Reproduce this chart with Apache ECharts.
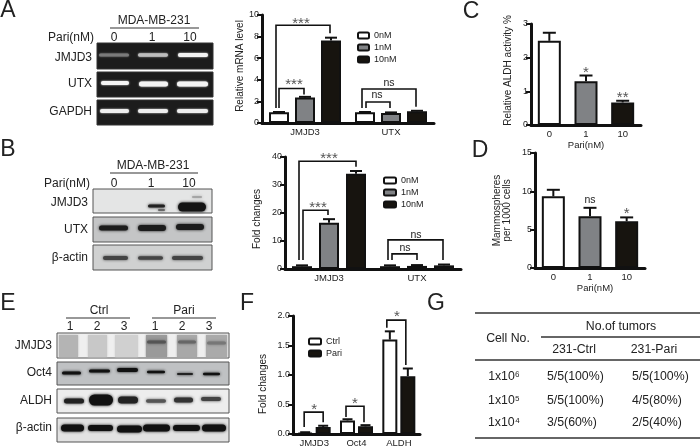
<!DOCTYPE html>
<html><head><meta charset="utf-8">
<style>html,body{margin:0;padding:0;background:#fff}#c{width:700px;height:448px;filter:blur(0.35px)}</style>
<script src="https://cdn.jsdelivr.net/npm/echarts@6/dist/echarts.min.js"></script>
</head><body><div id="c"></div>
<script>
// ---------- data ----------
const doseNames = ['0nM', '1nM', '10nM'];
const geneCats = ['JMJD3', 'UTX'];
const aVals = [[1.0, 1.0], [2.35, 0.92], [7.65, 1.08]];
const aErrs = [[1.02, 1.02], [2.42, 0.98], [7.9, 1.13]];
const bVals = [[1.0, 1.0], [16.5, 1.1], [34.0, 1.3]];
const bErrs = [[1.3, 1.3], [17.8, 1.4], [35.0, 1.6]];
const pariCats = ['0', '1', '10'];
const cVals = [2.5, 1.3, 0.67];
const cErrs = [2.74, 1.47, 0.72];
const dVals = [9.35, 6.75, 6.1];
const dErrs = [10.2, 7.85, 6.6];
const fCats = ['JMJD3', 'Oct4', 'ALDH'];
const fGroups = ['Ctrl', 'Pari'];
const fVals = [[0.02, 0.23, 1.6], [0.12, 0.13, 0.98]];
const fErrs = [[0.03, 0.25, 1.74], [0.14, 0.15, 1.11]];
// significance brackets: [category, left foot value, top value, right foot value, label, label value]
const aSig = [[0, 1.4, 9.05, 8.3, '***', 9.2], [0, 1.4, 3.2, 2.65, '***', 3.55], [1, 1.4, 3.15, 1.5, 'ns', 3.7], [1, 1.4, 1.95, 1.4, 'ns', 2.55]];
const bSig = [[0, 3.2, 38.5, 36.5, '***', 39.4], [0, 3.2, 21, 19.3, '***', 22], [1, 3.2, 10.4, 3.2, 'ns', 12.2], [1, 3.2, 5.4, 3.2, 'ns', 7.3]];
const fSig = [[0, 0.12, 0.37, 0.2, '*', 0.41], [1, 0.29, 0.47, 0.2, '*', 0.51], [2, 1.8, 1.93, 1.17, '*', 1.98]];
const cMarks = [[1, '*', 1.55], [2, '**', 0.8]];
const dMarks = [[1, 'ns', 8.9], [2, '*', 7.1]];
const tableHead = ['Cell No.', 'No.of tumors', '231-Ctrl', '231-Pari'];
const tableRows = [['1x10⁶', '5/5(100%)', '5/5(100%)'], ['1x10⁵', '5/5(100%)', '4/5(80%)'], ['1x10⁴', '3/5(60%)', '2/5(40%)']];

// ---------- layout ----------
const FONT = '"Liberation Sans", Arial, sans-serif';
const INK = '#222';
const fills = ['#ffffff', '#808285', '#17140f'];
const grids = [
  {left: 262, top: 15, width: 172, height: 108},
  {left: 285, top: 157, width: 176, height: 112},
  {left: 531, top: 24, width: 110, height: 101},
  {left: 535, top: 153, width: 110, height: 115},
  {left: 293, top: 316, width: 127, height: 118}
];
const aSigDx = [[-29, 25, -4], [-26, -1, -11], [-29, 25, -2], [-25, -1, -14]];
const bSigDx = [[-30, 27, 0], [-26, -1, -11], [-29, 26, -1], [-25, 0, -12]];
const fSigDx = [[-10, 9, 0], [-10.5, 7.5, -1.5], [-12, 7, -2]];

function xAxis(i, data, extra) {
  return Object.assign({
    type: 'category', gridIndex: i, data,
    axisLine: {show: true, lineStyle: {color: '#111', width: 3}},
    axisTick: {show: false},
    axisLabel: {color: INK, fontSize: 9.5, margin: 4, fontFamily: FONT, interval: 0}
  }, extra || {});
}
function yAxis(i, max, interval, name, gap, padding, extra) {
  return Object.assign({
    type: 'value', gridIndex: i, min: 0, max, interval,
    name, nameLocation: 'middle', nameGap: gap,
    nameTextStyle: {color: INK, fontSize: 10, fontFamily: FONT, padding},
    splitLine: {show: false},
    axisLine: {show: true, lineStyle: {color: '#111', width: 3}},
    axisTick: {show: true, length: 5, lineStyle: {color: '#111', width: 2}},
    axisLabel: {color: INK, fontSize: 9, margin: 3, fontFamily: FONT}
  }, extra || {});
}
function barSeries(name, i, data, fill, width, gap) {
  return {
    type: 'bar', name, xAxisIndex: i, yAxisIndex: i, data,
    barWidth: width, barGap: gap, z: 2, silent: true,
    itemStyle: {color: fill, borderColor: '#111', borderWidth: 2}
  };
}
// error bars: rows of [category, pixel slot offset, value, upper bound]
function errSeries(i, rows, cap) {
  return {
    type: 'custom', xAxisIndex: i, yAxisIndex: i, silent: true, z: 3, clip: false,
    data: rows.map(r => [r[0], r[3]]),
    renderItem(p, api) {
      const r = rows[p.dataIndex];
      const a = api.coord([r[0], r[2]]), b = api.coord([r[0], r[3]]);
      const x = a[0] + r[1];
      return {type: 'group', children: [
        {type: 'line', shape: {x1: x, y1: a[1], x2: x, y2: b[1]}, style: {stroke: '#111', lineWidth: 2}},
        {type: 'line', shape: {x1: x - cap / 2, y1: b[1], x2: x + cap / 2, y2: b[1]}, style: {stroke: '#111', lineWidth: 2}}
      ]};
    }
  };
}
function sigText(x, y, t) {
  return {type: 'text', style: {text: t, x, y, align: 'center', verticalAlign: 'middle',
    fill: t === 'ns' ? INK : '#555', fontSize: t === 'ns' ? 10.5 : 15, fontFamily: FONT}};
}
function bracketSeries(i, rows, dx) {
  return {
    type: 'custom', xAxisIndex: i, yAxisIndex: i, silent: true, z: 4, clip: false,
    data: rows.map(r => [r[0], r[2]]),
    renderItem(p, api) {
      const r = rows[p.dataIndex], d = dx[p.dataIndex];
      const c = api.coord([r[0], 0])[0];
      const Y = v => api.coord([r[0], v])[1];
      return {type: 'group', children: [
        {type: 'polyline', shape: {points: [[c + d[0], Y(r[1])], [c + d[0], Y(r[2])], [c + d[1], Y(r[2])], [c + d[1], Y(r[3])]]},
          style: {stroke: '#111', lineWidth: 1.6, fill: null}},
        sigText(c + d[2], Y(r[5]), r[4])
      ]};
    }
  };
}
function markSeries(i, rows) {
  return {
    type: 'custom', xAxisIndex: i, yAxisIndex: i, silent: true, z: 4, clip: false,
    data: rows.map(r => [r[0], r[2]]),
    renderItem(p, api) {
      const r = rows[p.dataIndex], a = api.coord([r[0], r[2]]);
      return sigText(a[0], a[1], r[1]);
    }
  };
}
function groupedSeries(i, vals, errs, names, width, step, cap) {
  const out = [];
  names.forEach((n, s) => {
    out.push(barSeries(n, i, vals[s], s === 0 ? fills[0] : fills[names.length === 2 ? 2 : s], width, ((step - width) / width * 100) + '%'));
  });
  const rows = [];
  names.forEach((n, s) => vals[s].forEach((v, c) => rows.push([c, step * (s - (names.length - 1) / 2), v, errs[s][c]])));
  out.push(errSeries(i, rows, cap));
  return out;
}
function singleSeries(i, vals, errs, width) {
  return [
    {type: 'bar', xAxisIndex: i, yAxisIndex: i, barWidth: width, z: 2, silent: true,
     data: vals.map((v, k) => ({value: v, itemStyle: {color: fills[k], borderColor: '#111', borderWidth: 2}}))},
    errSeries(i, vals.map((v, k) => [k, 0, v, errs[k]]), 13)
  ];
}

// ---------- decorative text, blots, table ----------
const g = [];
function T(t, x, y, size, align, extra) {
  g.push(Object.assign({type: 'text', silent: true, style: {text: t, x, y, fontSize: size, fontFamily: FONT, fill: INK,
    align: align || 'center', verticalAlign: 'middle'}}, extra || {}));
}
function L(x1, y, x2, w, c) {
  g.push({type: 'line', silent: true, shape: {x1, y1: y, x2, y2: y}, style: {stroke: c || '#333', lineWidth: w || 1.2}});
}
function box(x, y, w, h, fill, stroke) {
  g.push({type: 'rect', silent: true, shape: {x, y, width: w, height: h}, style: {fill, stroke: stroke || '#666', lineWidth: 1}});
}
function band(x, yc, w, h, fill, blur) {
  g.push({type: 'rect', silent: true, shape: {x, y: yc - h / 2, width: w, height: h, r: h / 2},
    style: {fill, shadowBlur: blur == null ? 3 : blur, shadowColor: fill}});
}
[['A', 8, 11], ['B', 8, 150], ['C', 471, 12], ['D', 480, 151], ['E', 8, 304], ['F', 247, 304], ['G', 436, 304]]
  .forEach(a => T(a[0], a[1], a[2], 23));

// panel A gel
T('MDA-MB-231', 154, 21, 12); L(110, 28, 199);
T('Pari(nM)', 94, 38, 12, 'right');
[['0', 114], ['1', 152], ['10', 190]].forEach(a => T(a[0], a[1], 38, 12));
[['JMJD3', 92, 58], ['UTX', 92, 84], ['GAPDH', 92, 112]].forEach(a => T(a[0], a[1], a[2], 12, 'right'));
[[43, 26], [72, 25], [100, 25]].forEach(r => box(97, r[0], 116, r[1], '#1c1c1c', '#333'));
[[99, 55, 30, 3, '#7a7a7a'], [138, 55, 30, 3.5, '#bdbdbd'], [178, 55, 30, 4, '#f2f2f2'],
 [101, 83, 28, 4, '#f4f4f4'], [139, 84, 29, 5, '#f4f4f4'], [177, 84, 31, 5, '#f4f4f4'],
 [100, 111, 29, 4, '#eeeeee'], [138, 111, 30, 4, '#eeeeee'], [177, 111, 31, 4, '#eeeeee']]
  .forEach(b => band(b[0], b[1], b[2], b[3], b[4], 2));

// panel B blot
T('MDA-MB-231', 153, 166, 12); L(110, 173, 198);
T('Pari(nM)', 90, 184, 12, 'right');
[['0', 114], ['1', 151], ['10', 189]].forEach(a => T(a[0], a[1], 184, 12));
[['JMJD3', 88, 203], ['UTX', 88, 230], ['β-actin', 88, 258]].forEach(a => T(a[0], a[1], a[2], 12, 'right'));
[[189, 24, '#e4e5e5'], [217, 25, '#c4c5c6'], [245, 25, '#d0d1d1']].forEach(r => box(93, r[0], 119, r[1], r[2], '#555'));
[[148, 206, 17, 3, '#222'], [158, 210, 7, 2, '#666'], [178, 207, 28, 9, '#141414'], [192, 197, 10, 1.5, '#999'],
 [99, 228, 29, 5, '#1c1c1c'], [138, 228, 28, 6, '#1c1c1c'], [176, 227, 28, 6, '#1c1c1c'],
 [103, 258, 25, 4, '#444'], [138, 258, 25, 3.5, '#444'], [172, 258, 31, 4, '#444']]
  .forEach(b => band(b[0], b[1], b[2], b[3], b[4], 3));

// panel E blots
T('Ctrl', 99, 311, 12); L(66, 318, 130);
T('Pari', 184, 311, 12); L(152, 318, 216);
[['1', 70], ['2', 97], ['3', 124], ['1', 155], ['2', 182], ['3', 209]].forEach(a => T(a[0], a[1], 327, 12));
[['JMJD3', 346], ['Oct4', 373], ['ALDH', 401], ['β-actin', 428]].forEach(a => T(a[0], 52, a[1], 12, 'right'));
[[333, 25, '#efefef'], [362, 23, '#bfc1c3'], [389, 24, '#ededed'], [418, 24, '#e2e2e2']].forEach(r => box(57, r[0], 172, r[1], r[2], '#555'));
[[59, 19, '#b4b4b4'], [88, 19, '#c8c8c8'], [115, 23, '#d0d0d0'], [146, 21, '#9a9a9a'], [177, 20, '#a8a8a8'], [206, 21, '#aaaaaa']]
  .forEach(l => g.push({type: 'rect', silent: true, shape: {x: l[0], y: 335, width: l[1], height: 22}, style: {fill: l[2], shadowBlur: 2, shadowColor: l[2]}}));
[[147, 342, 19, 3, '#555'], [178, 342, 18, 3, '#666'], [207, 343, 19, 3, '#777']].forEach(b => band(b[0], b[1], b[2], b[3], b[4], 3));
[[62, 373, 19, 3, '#111'], [89, 371, 21, 3, '#111'], [117, 370, 21, 4, '#111'], [147, 372, 18, 2.5, '#111'], [177, 374, 16, 2, '#222'], [203, 374, 17, 2.5, '#111'],
 [64, 401, 20, 5, '#222'], [89, 400, 24, 11, '#111'], [118, 400, 20, 7, '#222'], [146, 401, 20, 3.5, '#555'], [174, 400, 19, 5, '#333'], [201, 399, 20, 4, '#444'],
 [61, 428, 23, 7, '#111'], [88, 428, 25, 6, '#111'], [117, 429, 25, 7, '#111'], [143, 428, 27, 7, '#111'], [173, 428, 27, 6, '#111'], [202, 428, 24, 7, '#111']]
  .forEach(b => band(b[0], b[1], b[2], b[3], b[4], 3));

// panel G table
L(475, 313, 700, 1.3, '#333'); L(541, 337, 700, 1.3, '#333'); L(475, 360, 700, 1.3, '#333'); L(475, 438, 700, 1.3, '#333');
T(tableHead[0], 508, 339, 12.3);
T(tableHead[1], 621, 327, 12.3);
T(tableHead[2], 574, 350, 12.3);
T(tableHead[3], 654, 350, 12.3);
tableRows.forEach((r, k) => {
  const y = [377, 401, 423][k];
  T(r[0], 504, y, 12.3);
  T(r[1], 547, y, 12.3, 'left');
  T(r[2], 632, y, 12.3, 'left');
});

const option = {
  animation: false,
  backgroundColor: '#fff',
  textStyle: {fontFamily: FONT},
  grid: grids,
  legend: [
    {data: doseNames, left: 357, top: 31, orient: 'vertical', itemWidth: 11, itemHeight: 6, itemGap: 3, padding: 0, selectedMode: false,
     textStyle: {fontSize: 9, color: INK, fontFamily: FONT}},
    {data: doseNames, left: 383, top: 176, orient: 'vertical', itemWidth: 12, itemHeight: 6, itemGap: 3, padding: 0, selectedMode: false,
     textStyle: {fontSize: 9, color: INK, fontFamily: FONT}},
    {data: fGroups, left: 308, top: 337, orient: 'vertical', itemWidth: 12, itemHeight: 6, itemGap: 3, padding: 0, selectedMode: false,
     textStyle: {fontSize: 9, color: INK, fontFamily: FONT}}
  ],
  xAxis: [
    xAxis(0, geneCats), xAxis(1, geneCats),
    xAxis(2, pariCats, {name: 'Pari(nM)', nameLocation: 'middle', nameGap: 12, nameTextStyle: {color: INK, fontSize: 9.5, fontFamily: FONT}}),
    xAxis(3, pariCats, {name: 'Pari(nM)', nameLocation: 'middle', nameGap: 12, nameTextStyle: {color: INK, fontSize: 9.5, fontFamily: FONT, padding: [0, 0, 0, 10]}}),
    xAxis(4, fCats)
  ],
  yAxis: [
    yAxis(0, 10, 2, 'Relative mRNA level', 16, [0, 0, 0, 6]),
    yAxis(1, 40, 10, 'Fold changes', 23, [0, 12, 0, 0]),
    yAxis(2, 3, 1, 'Relative ALDH activity %', 18, [0, 0, 0, 8]),
    yAxis(3, 15, 5, 'Mammospheres\nper 1000 cells', 23, 0),
    yAxis(4, 2, 0.5, 'Fold changes', 25, [0, 18, 0, 0], {axisLabel: {color: INK, fontSize: 9, margin: 3, fontFamily: FONT, formatter: v => v.toFixed(1)}})
  ],
  series: [].concat(
    groupedSeries(0, aVals, aErrs, doseNames, 20, 26, 12), bracketSeries(0, aSig, aSigDx),
    groupedSeries(1, bVals, bErrs, doseNames, 20, 27, 12), bracketSeries(1, bSig, bSigDx),
    singleSeries(2, cVals, cErrs, 23), markSeries(2, cMarks),
    singleSeries(3, dVals, dErrs, 23), markSeries(3, dMarks),
    groupedSeries(4, fVals, fErrs, fGroups, 15, 18, 10), bracketSeries(4, fSig, fSigDx)
  ),
  graphic: {elements: g}
};
echarts.init(document.getElementById('c')).setOption(option);
</script></body></html>
